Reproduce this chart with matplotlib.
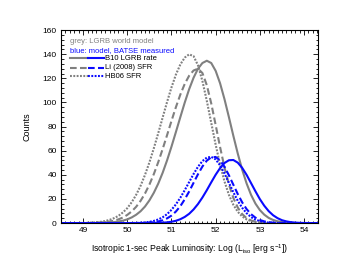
import matplotlib
matplotlib.use("Agg")
import matplotlib.pyplot as plt
from matplotlib.ticker import MultipleLocator
from matplotlib.lines import Line2D

plt.rcParams['font.family'] = ['Liberation Sans', 'DejaVu Sans']
plt.rcParams['mathtext.fontset'] = 'custom'
plt.rcParams['mathtext.rm'] = 'Liberation Sans'
plt.rcParams['mathtext.it'] = 'Liberation Sans:italic'

log_l = [48.4, 48.5, 48.6, 48.7, 48.8, 48.9, 49.0, 49.1, 49.2, 49.3,
         49.4, 49.5, 49.6, 49.7, 49.8, 49.9, 50.0, 50.1, 50.2, 50.3,
         50.4, 50.5, 50.6, 50.7, 50.8, 50.9, 51.0, 51.1, 51.2, 51.3,
         51.4, 51.5, 51.6, 51.7, 51.8, 51.9, 52.0, 52.1, 52.2, 52.3,
         52.4, 52.5, 52.6, 52.7, 52.8, 52.9, 53.0, 53.1, 53.2, 53.3,
         53.4, 53.5, 53.6, 53.7, 53.8, 53.9, 54.0, 54.1, 54.2, 54.3,
         54.4]

grey_b10 = [0, 0, 0, 0, 0, 0, 0, 0.02, 0.05, 0.1,
            0.2, 0.3, 0.5, 0.8, 1.3, 2.0, 3.1, 4.7, 6.9, 9.8,
            13.7, 18.8, 25.1, 32.7, 41.7, 52.0, 63.4, 75.5, 87.8, 99.9,
            111.0, 120.5, 128.0, 132.7, 134.6, 132.7, 126.2, 115.9, 102.7, 87.8,
            72.4, 57.7, 44.3, 32.9, 23.5, 16.2, 10.8, 7.0, 4.3, 2.6,
            1.5, 0.83, 0.45, 0.23, 0.1, 0.05, 0, 0, 0, 0,
            0]
grey_li = [0, 0, 0, 0, 0, 0, 0.05, 0.1, 0.17, 0.3,
           0.5, 0.8, 1.3, 2.0, 3.1, 4.6, 6.8, 9.7, 13.5, 18.4,
           24.5, 31.9, 40.6, 50.5, 61.4, 72.9, 84.7, 96.1, 106.5, 115.4,
           122.2, 126.5, 128.0, 124.4, 114.3, 99.2, 81.3, 63.0, 46.1, 31.9,
           20.9, 12.9, 7.5, 4.1, 2.2, 1.06, 0.5, 0.22, 0.09, 0.03,
           0, 0, 0, 0, 0, 0, 0, 0, 0, 0,
           0]
grey_hb06 = [0, 0, 0, 0.01, 0.03, 0.07, 0.13, 0.23, 0.39, 0.65,
             1.07, 1.7, 2.66, 4.1, 6.0, 8.8, 12.4, 17.3, 23.4, 30.9,
             39.9, 50.3, 62.0, 74.5, 87.5, 100.4, 112.5, 123.1, 131.5, 137.2,
             139.9, 138.4, 130.8, 117.8, 101.3, 83.1, 65.0, 48.5, 34.5, 23.4,
             15.2, 9.4, 5.5, 3.1, 1.66, 0.85, 0.41, 0.19, 0.08, 0.03,
             0, 0, 0, 0, 0, 0, 0, 0, 0, 0,
             0]
blue_b10 = [0, 0, 0, 0, 0, 0, 0, 0, 0, 0,
            0, 0, 0, 0, 0, 0, 0, 0, 0, 0,
            0.02, 0.04, 0.08, 0.17, 0.33, 0.62, 1.1, 1.9, 3.2, 5.1,
            7.7, 11.3, 15.8, 21.2, 27.3, 33.8, 40.1, 45.6, 49.8, 52.1,
            52.3, 50.1, 45.8, 40.0, 33.2, 26.4, 19.9, 14.4, 9.9, 6.5,
            4.1, 2.4, 1.4, 0.75, 0.39, 0.19, 0.09, 0.04, 0.02, 0,
            0]
blue_li = [0, 0, 0, 0, 0, 0, 0, 0, 0, 0,
           0, 0, 0, 0, 0, 0, 0, 0, 0.04, 0.08,
           0.18, 0.36, 0.7, 1.3, 2.3, 3.9, 6.2, 9.6, 14.0, 19.7,
           26.2, 33.4, 40.5, 46.9, 51.8, 54.5, 54.8, 52.0, 46.7, 39.6,
           31.8, 24.1, 17.2, 11.6, 7.4, 4.5, 2.6, 1.4, 0.7, 0.34,
           0.15, 0.07, 0.03, 0, 0, 0, 0, 0, 0, 0,
           0]
blue_hb06 = [0, 0, 0, 0, 0, 0, 0, 0, 0, 0,
             0, 0, 0, 0, 0, 0, 0.04, 0.07, 0.15, 0.3,
             0.58, 1.0, 1.8, 3.0, 4.8, 7.4, 11.0, 15.5, 21.0, 27.3,
             34.0, 40.7, 46.7, 51.4, 54.3, 54.9, 52.8, 47.9, 41.1, 33.4,
             25.6, 18.5, 12.7, 8.2, 5.0, 2.9, 1.6, 0.81, 0.4, 0.18,
             0.08, 0.03, 0, 0, 0, 0, 0, 0, 0, 0,
             0]

labels = ["B10 LGRB rate", "Li (2008) SFR", "HB06 SFR"]
header_grey = "grey: LGRB world model"
header_blue = "blue: model, BATSE measured"

GREY = '#808080'
BLUE = '#0a0aff'
styles = ['-', (0, (3.2, 1.6)), (0, (0.9, 0.7))]
lw = 1.5

fig = plt.figure(figsize=(3.41, 2.64), dpi=100)
ax = fig.add_axes([0.179, 0.155, 0.754, 0.731])

for ys, st in zip([grey_b10, grey_li, grey_hb06], styles):
    ax.plot(log_l, ys, color=GREY, lw=lw, linestyle=st)
for ys, st in zip([blue_b10, blue_li, blue_hb06], styles):
    ax.plot(log_l, ys, color=BLUE, lw=lw, linestyle=st)

ax.set_xlim(48.5, 54.32)
ax.set_ylim(0, 160)
ax.xaxis.set_major_locator(MultipleLocator(1))
ax.xaxis.set_minor_locator(MultipleLocator(0.1))
ax.yaxis.set_major_locator(MultipleLocator(20))
ax.yaxis.set_minor_locator(MultipleLocator(4))
ax.tick_params(which='both', direction='in', top=True, right=True, labelsize=6, width=0.6)
ax.tick_params(which='major', length=3.5, pad=3)
ax.tick_params(which='minor', length=1.8)
for sp in ax.spines.values():
    sp.set_linewidth(0.8)

ax.set_ylabel("Counts", fontsize=6.5, labelpad=8)
ax.set_xlabel(r"Isotropic 1-sec Peak Luminosity: Log (L$_{\mathrm{iso}}$ [erg s$^{-1}$])",
              fontsize=6.2, labelpad=6)

# legend drawn as annotations
ax.text(0.035, 0.94, header_grey, color=GREY, fontsize=5.5, transform=ax.transAxes, va='center')
ax.text(0.035, 0.896, header_blue, color=BLUE, fontsize=5.5, transform=ax.transAxes, va='center')
for lab, st, yy in zip(labels, styles, [0.853, 0.804, 0.761]):
    ax.add_line(Line2D([0.035, 0.105], [yy, yy], color=GREY, lw=lw, linestyle=st, transform=ax.transAxes))
    ax.add_line(Line2D([0.105, 0.167], [yy, yy], color=BLUE, lw=lw, linestyle=st, transform=ax.transAxes))
    ax.text(0.172, yy, lab, color='black', fontsize=5.5, transform=ax.transAxes, va='center')

fig.savefig("out.png", dpi=100)
